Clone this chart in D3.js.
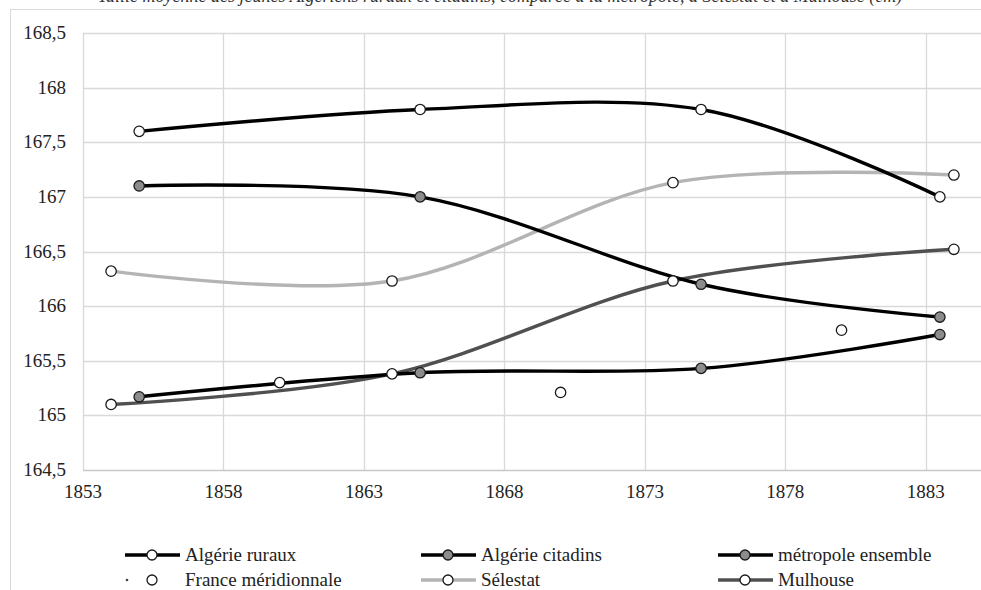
<!DOCTYPE html>
<html>
<head>
<meta charset="utf-8">
<script src="https://cdn.jsdelivr.net/npm/d3@7"></script>
<style>
    html, body { margin: 0; padding: 0; background: #fff; overflow: hidden; }
    svg { display: block; }
    svg text { font-family: "Liberation Serif", "Times New Roman", Times, "DejaVu Serif", serif; }
</style>
</head>
<body>
<svg id="chart" width="981" height="590"></svg>
<script>
// Values (taille moyenne, cm)
const ruraux = [[1855, 167.6], [1865, 167.8], [1875, 167.8], [1883.5, 167.0]];
const citadins = [[1855, 167.1], [1865, 167.0], [1875, 166.2], [1883.5, 165.9]];
const metropole = [[1855, 165.17], [1865, 165.39], [1875, 165.43], [1883.5, 165.74]];
const meridionnale = [[1860, 165.3], [1870, 165.21], [1880, 165.78]];
const selestat = [[1854, 166.32], [1864, 166.23], [1874, 167.13], [1884, 167.2]];
const mulhouse = [[1854, 165.1], [1864, 165.38], [1874, 166.23], [1884, 166.52]];

const xTicks = [1853, 1858, 1863, 1868, 1873, 1878, 1883];
const yTicks = [164.5, 165, 165.5, 166, 166.5, 167, 167.5, 168, 168.5];

const series = [
    { name: "Algérie ruraux", data: ruraux, line: "#000", fill: "#fff", width: 3.4 },
    { name: "Algérie citadins", data: citadins, line: "#000", fill: "#8c8c8c", width: 3.4 },
    { name: "métropole ensemble", data: metropole, line: "#000", fill: "#8c8c8c", width: 3.4 },
    { name: "France méridionnale", data: meridionnale, line: null, fill: "#fff", width: 0 },
    { name: "Sélestat", data: selestat, line: "#b4b4b4", fill: "#fff", width: 3.4 },
    { name: "Mulhouse", data: mulhouse, line: "#505050", fill: "#fff", width: 3.4 }
];

const serif = "'Liberation Serif', 'Times New Roman', Times, 'DejaVu Serif', serif";

const svg = d3.select("#chart").attr("font-family", serif);

const x = d3.scaleLinear().domain([1853, 1885]).range([83, 982]);
const y = d3.scaleLinear().domain([164.5, 168.5]).range([470, 33]);
const fmt = v => String(v).replace(".", ",");

// caption, cut by the top of the picture as in the original
svg.append("text")
    .attr("x", 500)
    .attr("y", 2)
    .attr("text-anchor", "middle")
    .attr("font-family", serif)
    .style("font-size", "18px")
    .style("font-style", "italic")
    .attr("fill", "#333")
    .text("Taille moyenne des jeunes Algériens ruraux et citadins, comparée à la métropole, à Sélestat et à Mulhouse (cm)");

// chart frame
svg.append("rect")
    .attr("x", 10.5)
    .attr("y", 9.5)
    .attr("width", 990)
    .attr("height", 600)
    .attr("fill", "none")
    .attr("stroke", "#d9d9d9");

// gridlines
svg.append("g")
    .selectAll("line")
    .data(yTicks.slice(1))
    .join("line")
    .attr("x1", x(1853))
    .attr("x2", x(1885))
    .attr("y1", d => Math.round(y(d)) + 0.5)
    .attr("y2", d => Math.round(y(d)) + 0.5)
    .attr("stroke", "#d9d9d9")
    .attr("stroke-width", 1.3);

svg.append("g")
    .selectAll("line")
    .data(xTicks)
    .join("line")
    .attr("x1", d => Math.round(x(d)) + 0.5)
    .attr("x2", d => Math.round(x(d)) + 0.5)
    .attr("y1", y(168.5))
    .attr("y2", y(164.5))
    .attr("stroke", "#d9d9d9")
    .attr("stroke-width", 1.3);

// bottom axis line
svg.append("line")
    .attr("x1", x(1853))
    .attr("x2", x(1885))
    .attr("y1", Math.round(y(164.5)) + 0.5)
    .attr("y2", Math.round(y(164.5)) + 0.5)
    .attr("stroke", "#c8c8c8")
    .attr("stroke-width", 1.3);

// tick labels
svg.append("g")
    .selectAll("text")
    .data(yTicks)
    .join("text")
    .attr("x", 66)
    .attr("y", d => y(d) + 6)
    .attr("text-anchor", "end")
    .attr("font-family", serif)
    .style("font-size", "19px")
    .attr("fill", "#222")
    .text(fmt);

svg.append("g")
    .selectAll("text")
    .data(xTicks)
    .join("text")
    .attr("x", d => x(d))
    .attr("y", 498)
    .attr("text-anchor", "middle")
    .attr("font-family", serif)
    .style("font-size", "19px")
    .attr("fill", "#222")
    .text(d => d);

// smoothed lines, as in the spreadsheet
const line = d3.line()
    .x(d => x(d[0]))
    .y(d => y(d[1]))
    .curve(d3.curveCatmullRom.alpha(0));

const drawOrder = [4, 5, 2, 1, 0, 3];

for (const i of drawOrder) {
    const s = series[i];
    if (!s.line) continue;
    svg.append("path")
        .datum(s.data)
        .attr("d", line)
        .attr("fill", "none")
        .attr("stroke", s.line)
        .attr("stroke-width", s.width)
        .attr("stroke-linecap", "round");
}

for (const i of drawOrder) {
    const s = series[i];
    svg.append("g")
        .selectAll("circle")
        .data(s.data)
        .join("circle")
        .attr("cx", d => x(d[0]))
        .attr("cy", d => y(d[1]))
        .attr("r", 5.2)
        .attr("fill", s.fill)
        .attr("stroke", "#1a1a1a")
        .attr("stroke-width", 1.3);
}

// legend
const legendCols = [125, 421, 718];
const legendRows = [555, 580];

series.forEach((s, i) => {
    const lx = legendCols[i % 3];
    const ly = legendRows[Math.floor(i / 3)];
    const g = svg.append("g").attr("transform", `translate(${lx},${ly})`);
    if (s.line) {
        g.append("line")
            .attr("x1", 0)
            .attr("x2", 55)
            .attr("stroke", s.line)
            .attr("stroke-width", s.width);
    } else {
        g.append("circle")
            .attr("cx", 2)
            .attr("r", 1.3)
            .attr("fill", "#444");
    }
    g.append("circle")
        .attr("cx", 27)
        .attr("r", 5)
        .attr("fill", s.fill)
        .attr("stroke", "#1a1a1a")
        .attr("stroke-width", 1.3);
    g.append("text")
        .attr("x", 60)
        .attr("y", 6)
        .attr("font-family", serif)
        .style("font-size", "19px")
        .attr("fill", "#222")
        .text(s.name);
});
</script>
</body>
</html>
